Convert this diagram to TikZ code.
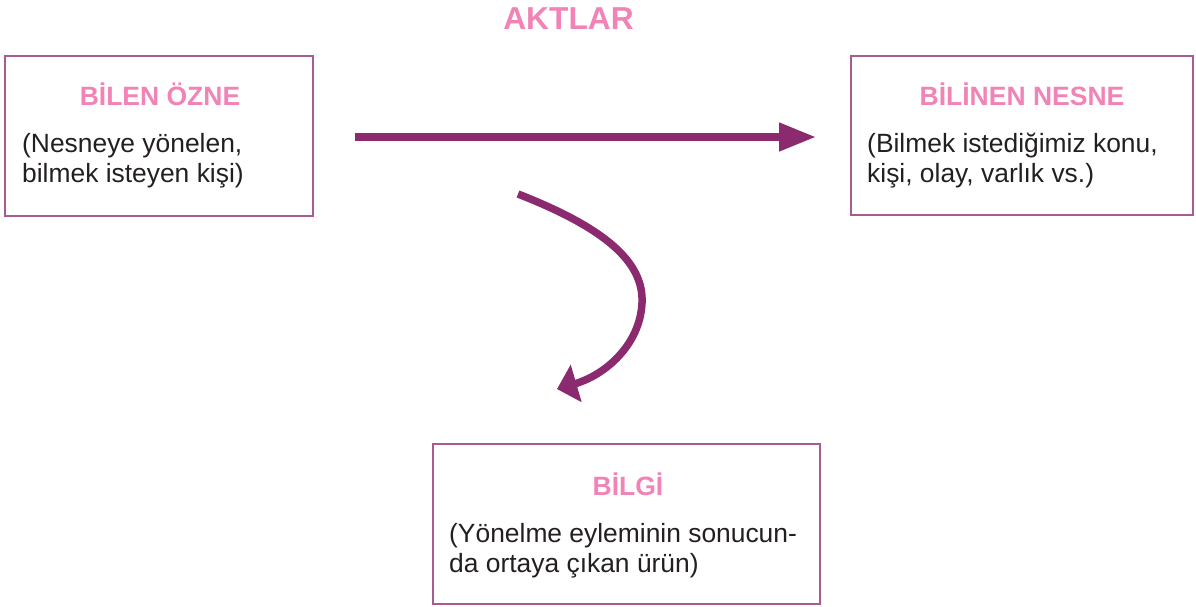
\documentclass[tikz,border=0pt]{standalone}
\usepackage{fontspec}
\setmainfont{Liberation Sans}
\usetikzlibrary{arrows.meta}
\definecolor{pinktxt}{HTML}{F283B6}
\definecolor{arrowpurple}{HTML}{8B2A6E}
\definecolor{boxline}{HTML}{A85A92}
\definecolor{bodytxt}{HTML}{231F20}
\tikzset{
  framebox/.style={draw=boxline, line width=1.4pt, rectangle, inner sep=0pt},
  headtxt/.style={text=pinktxt, font=\fontsize{26.5}{30}\selectfont\bfseries, inner sep=0pt, anchor=base},
  bodyline/.style={text=bodytxt, font=\fontsize{26.4}{30}\selectfont, inner sep=0pt, anchor=base west},
  bigarrow/.style={draw=arrowpurple, line width=7.5pt},
}
\begin{document}
\begin{tikzpicture}[x=1pt,y=-1pt]
\useasboundingbox (0,0) rectangle (1196,606);
% title
\node[text=pinktxt, font=\fontsize{31.7}{36}\selectfont\bfseries, inner sep=0pt, anchor=base] (title) at (568.5,29.5) {AKTLAR};
% boxes
\node[framebox, minimum width=308pt, minimum height=160pt] (ozne) at (159,136) {};
\node[framebox, minimum width=342pt, minimum height=159pt] (nesne) at (1022,135.5) {};
\node[framebox, minimum width=387pt, minimum height=160pt] (bilgi) at (626.5,524) {};
% box 1
\node[headtxt] (ozneh) at (160,105) {BİLEN ÖZNE};
\node[bodyline] (oznea) at (22,152) {(Nesneye yönelen,};
\node[bodyline] (ozneb) at (22,182) {bilmek isteyen kişi)};
% box 2
\node[headtxt] (nesneh) at (1022,105) {BİLİNEN NESNE};
\node[bodyline] (nesnea) at (867,152) {(Bilmek istediğimiz konu,};
\node[bodyline] (nesneb) at (867,182) {kişi, olay, varlık vs.)};
% box 3
\node[headtxt] (bilgih) at (628,495) {BİLGİ};
\node[bodyline] (bilgia) at (449,542) {(Yönelme eyleminin sonucun-};
\node[bodyline] (bilgib) at (449,572) {da ortaya çıkan ürün)};
% arrows
\coordinate (s1) at (355,137);
\coordinate (e1) at (816,137);
\draw[bigarrow, -{Triangle[length=37pt,width=27pt]}] (s1) -- (e1);
\coordinate (s2) at (518,194);
\coordinate (m2) at (642,303);
\coordinate (e2) at (557,389);
\draw[bigarrow, -{Triangle[length=20pt,width=38pt]}] (s2) .. controls (605,228) and (644,262) .. (m2) .. controls (640,345) and (605,375) .. (e2);
\end{tikzpicture}
\end{document}
